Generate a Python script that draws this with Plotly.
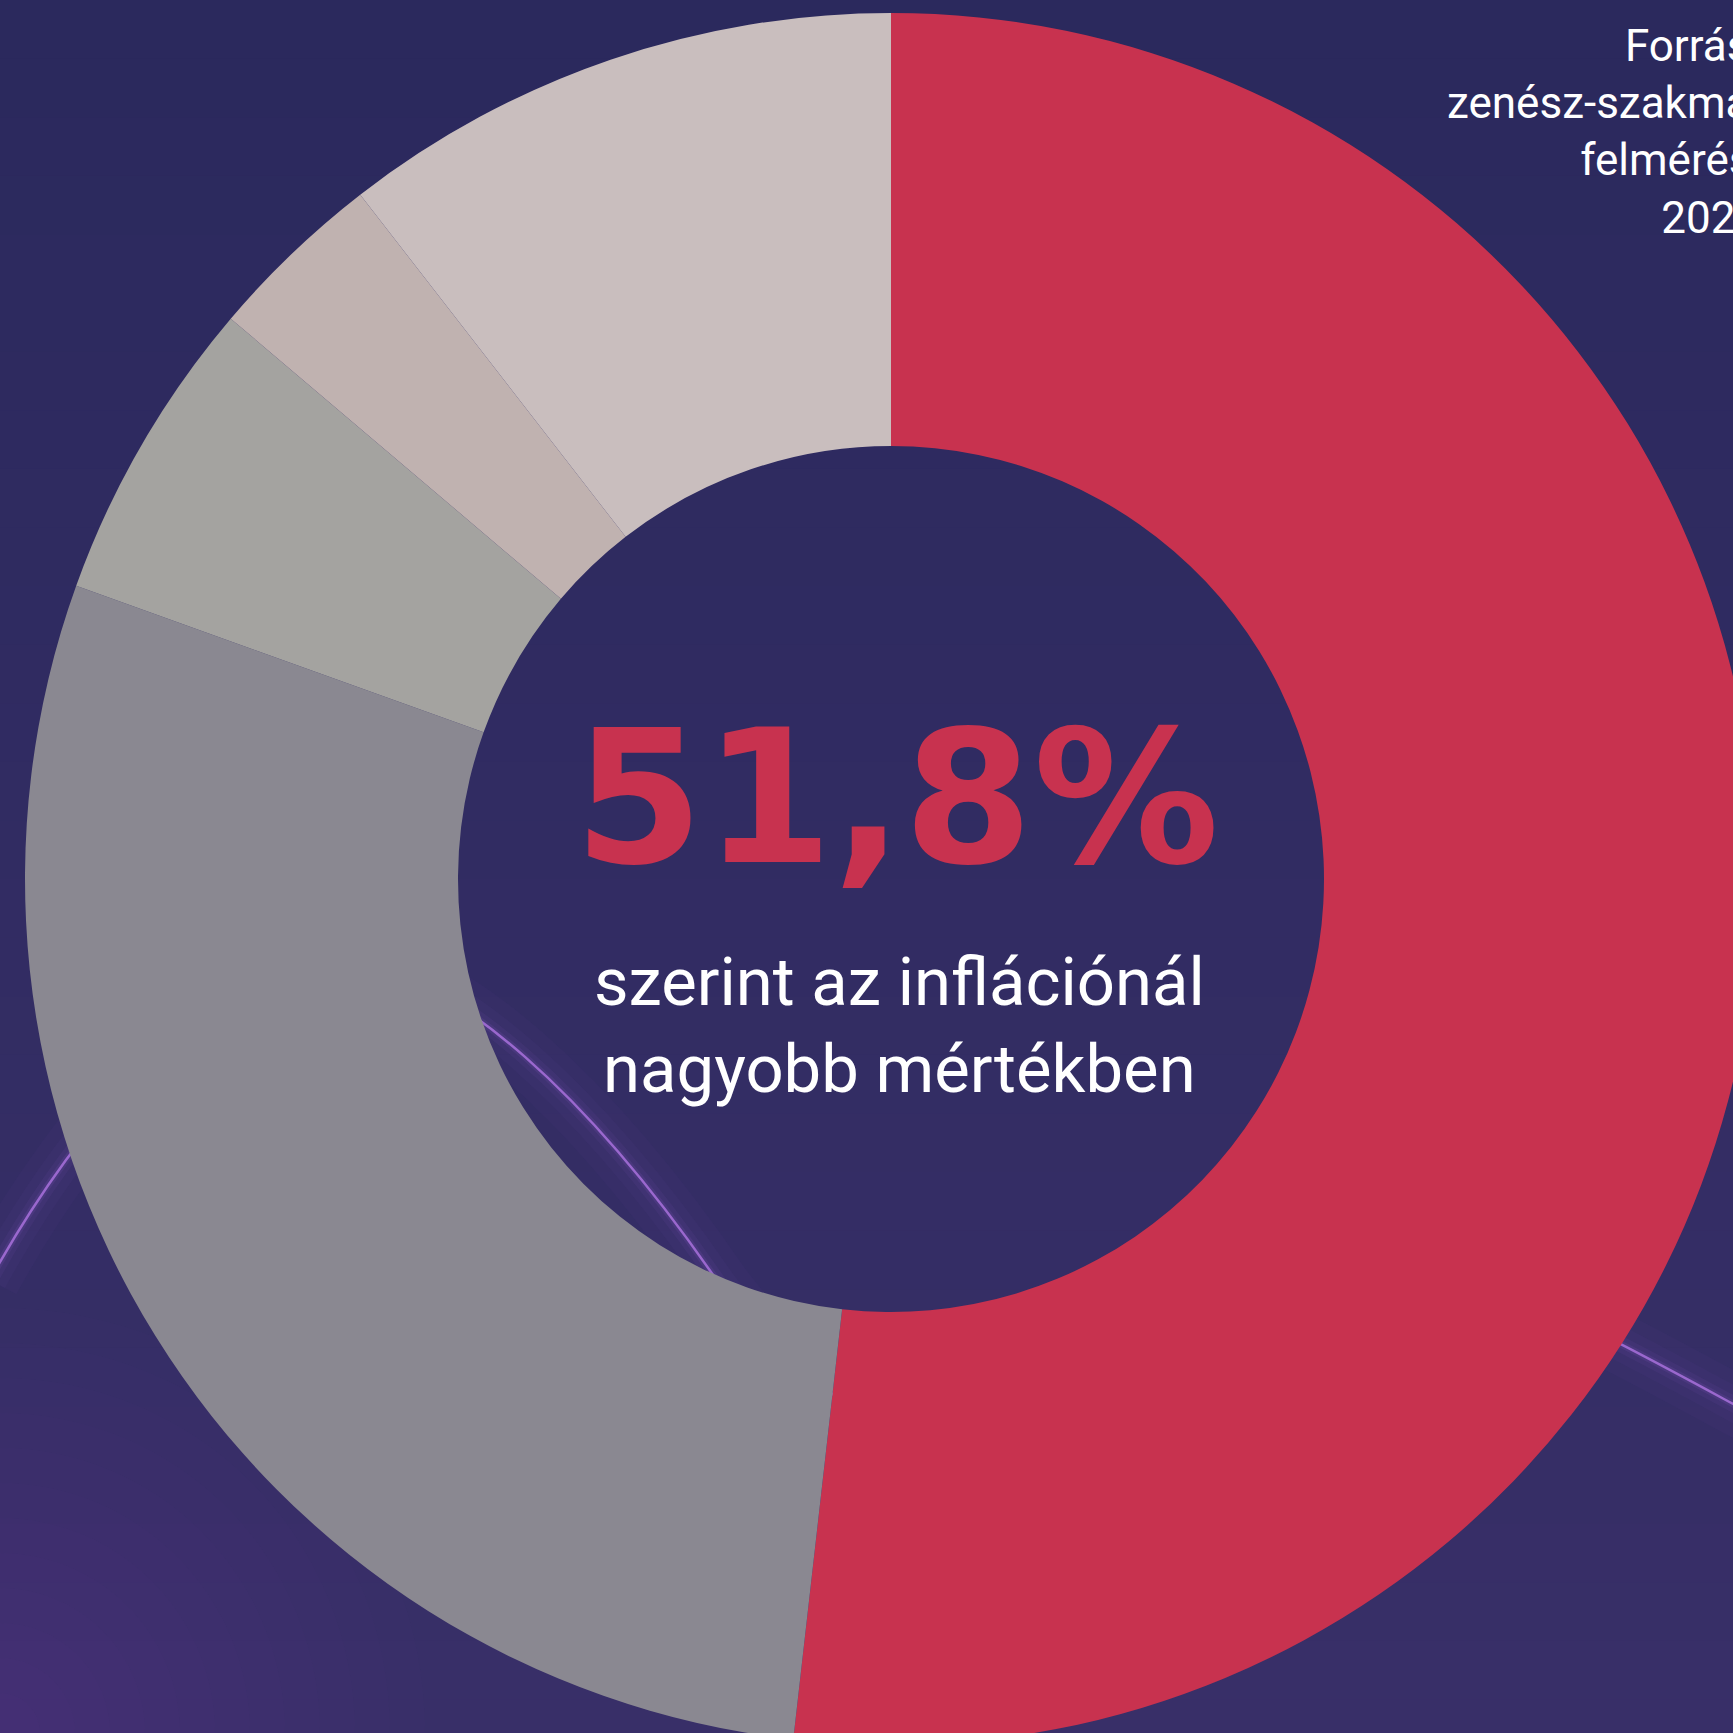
import plotly.graph_objects as go

# ---- data ----
categories = ["Az inflációnál nagyobb mértékben", "Kategória 2", "Kategória 3", "Kategória 4", "Kategória 5"]
values = [51.8, 28.7, 5.7, 3.3, 10.5]
slice_colors = ["#C8324F", "#8A8891", "#A4A3A0", "#C0B2B0", "#C9BEBE"]
headline = "51,8%"
subtitle_lines = ["szerint az inflációnál", "nagyobb mértékben"]
source_lines = ["Forrás:", "zenész-szakmai", "felmérés,", "2023"]

W, H = 1782, 1758          # canvas slightly larger than the viewport so the donut is cropped like the reference
CX, CY, R = 891, 879, 866

fig = go.Figure()

# hidden pixel-space axes for decorations / text
fig.update_xaxes(range=[0, W], visible=False, fixedrange=True)
fig.update_yaxes(range=[H, 0], visible=False, fixedrange=True)

# background gradient bands
top = (43, 41, 93)
bot = (56, 47, 104)
n = 30
shapes = []
for i in range(n):
    t = i / (n - 1)
    c = tuple(int(round(top[k] + (bot[k] - top[k]) * t)) for k in range(3))
    shapes.append(dict(type="rect", xref="x", yref="y", x0=0, x1=W, y0=H * i / n, y1=H * (i + 1) / n + 1,
                       fillcolor="rgb(%d,%d,%d)" % c, line=dict(width=0), layer="below"))
# soft glow in the bottom-left corner
for k in range(12):
    rr = 40 + k * 35
    shapes.append(dict(type="circle", xref="x", yref="y", x0=-rr, x1=rr, y0=1733 - rr, y1=1733 + rr,
                       fillcolor="rgba(110,70,170,0.022)", line=dict(width=0), layer="below"))
wave = ("M -10,1280 C 80,1115 220,960 330,960 "
        "C 450,960 600,1110 720,1285 "
        "C 840,1445 1000,1500 1200,1350 "
        "C 1400,1200 1500,1280 1800,1440")
for w, op in [(60, 0.03), (34, 0.045), (16, 0.07), (7, 0.12)]:
    shapes.append(dict(type="path", xref="x", yref="y", path=wave,
                       line=dict(color="rgba(150,95,215,%.3f)" % op, width=w), layer="below"))
shapes.append(dict(type="path", xref="x", yref="y", path=wave, line=dict(color="#9A68CE", width=2.5), layer="below"))

fig.add_trace(go.Pie(
    labels=categories, values=values, hole=0.5, sort=False, direction="clockwise", rotation=0,
    marker=dict(colors=slice_colors, line=dict(width=0)),
    textinfo="none", hoverinfo="label+percent", showlegend=False,
    domain=dict(x=[(CX - R) / W, (CX + R) / W], y=[1 - (CY + R) / H, 1 - (CY - R) / H]),
))

annotations = [
    dict(text="<b>%s</b>" % headline, x=896, y=797, xref="x", yref="y", showarrow=False,
         xanchor="center", yanchor="middle",
         font=dict(family="DejaVu Sans", size=186, color="#C8324F")),
    dict(text="<br>".join(subtitle_lines), x=899, y=1025, xref="x", yref="y", showarrow=False,
         xanchor="center", yanchor="middle", align="center",
         font=dict(family="Roboto", size=67, color="white")),
    dict(text="<br>".join(source_lines), x=1762, y=18, xref="x", yref="y", showarrow=False,
         xanchor="right", yanchor="top", align="right",
         font=dict(family="Roboto", size=44, color="white")),
]

fig.update_layout(
    width=W, height=H, margin=dict(l=0, r=0, t=0, b=0, pad=0),
    paper_bgcolor="#2B295D", plot_bgcolor="rgba(0,0,0,0)",
    shapes=shapes, annotations=annotations,
)

fig.write_html("out.html", config={"displayModeBar": False},
               post_script="document.documentElement.style.overflow='hidden';document.body.style.margin='0';document.body.style.overflow='hidden';")
